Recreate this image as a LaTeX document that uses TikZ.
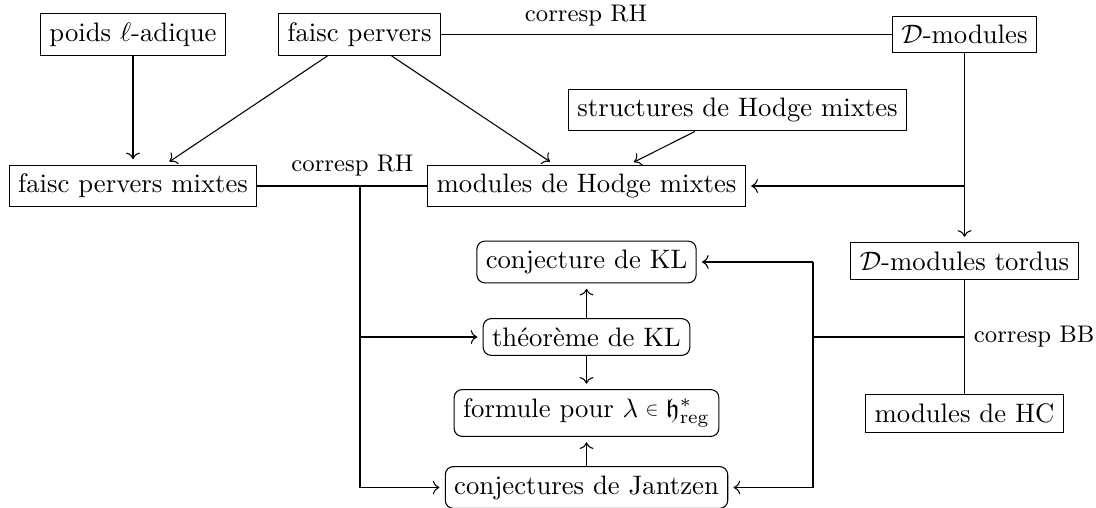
\documentclass[tikz,border=0pt]{standalone}
\usepackage{amssymb}
\usetikzlibrary{arrows.meta}
\newcommand{\smallelem}{\mathrel{\vcenter{\hbox{\scalebox{0.72}{$\in$}}}}}
\begin{document}
\begin{tikzpicture}[x=0.3745pt,y=-0.3745pt,
  box/.style={draw, inner sep=3.33pt},
  rbox/.style={draw, rounded corners=3pt, inner sep=3.33pt},
  arr/.style={-{Computer Modern Rightarrow}, shorten >=2pt},
  lbl/.style={font=\small}]
\useasboundingbox (0,0) rectangle (1096,508);
% nodes
\node[box] (poids) at (133,34.5) {poids $\ell$-adique};
\node[box] (fp) at (359.5,34.5) {faisc pervers};
\node[box] (dmod) at (964.5,34.5) {$\mathcal{D}$-modules};
\node[box] (shm) at (737.5,110) {structures de Hodge mixtes};
\node[box] (fpm) at (133,186) {faisc pervers mixtes};
\node[box] (mhm) at (586.5,186) {modules de Hodge mixtes};
\node[box] (dmt) at (964.5,261) {$\mathcal{D}$-modules tordus};
\node[box] (hc) at (964.5,413.5) {modules de HC};
\node[rbox] (ckl) at (586.5,262) {conjecture de KL};
\node[rbox] (tkl) at (586.5,337) {théorème de KL};
\node[rbox] (form) at (586.5,413) {formule pour $\lambda\smallelem\mathfrak{h}^*_{\mathrm{reg}}$};
\node[rbox] (jan) at (586.5,487.5) {conjectures de Jantzen};
% labels
\node[lbl, anchor=base] (rh1) at (586,22) {corresp RH};
\node[lbl, anchor=base] (rh2) at (352.5,172) {corresp RH};
% junction coordinates
\coordinate (v1) at (360,186);
\coordinate (v2) at (360,337);
\coordinate (v3) at (360,487.5);
\coordinate (r1) at (964.5,186);
\coordinate (r2) at (964.5,337);
\coordinate (r3) at (813,337);
\coordinate (r4) at (813,262);
\coordinate (r5) at (813,487.5);
\node[lbl, anchor=west] (bb) at (r2) {corresp BB};
% connectors
\draw (fp.east) -- (dmod.west);
\draw (fpm.east) -- (mhm.west);
\draw[arr] (poids) -- (fpm);
\draw[arr] (fp) -- (fpm);
\draw[arr] (fp) -- (mhm);
\draw[arr] (shm) -- (mhm);
\draw (v1) -- (v3);
\draw[arr] (v2) -- (tkl.west);
\draw[arr] (v3) -- (jan.west);
\draw[arr] (tkl) -- (ckl);
\draw[arr] (tkl) -- (form);
\draw[arr] (jan) -- (form);
\draw[arr] (dmod) -- (dmt);
\draw[arr] (r1) -- (mhm.east);
\draw (dmt) -- (hc);
\draw (r2) -- (r3);
\draw (r4) -- (r5);
\draw[arr] (r4) -- (ckl.east);
\draw[arr] (r5) -- (jan.east);
\end{tikzpicture}
\end{document}
